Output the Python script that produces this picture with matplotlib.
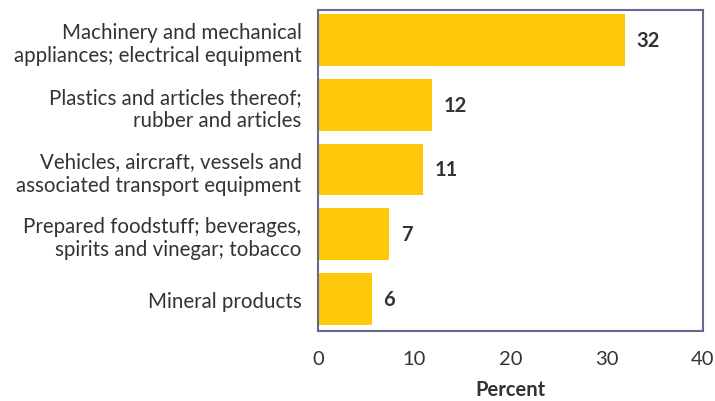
import matplotlib.pyplot as plt

plt.rcParams['font.family'] = ['Lato', 'DejaVu Sans']

categories = [
    "Machinery and mechanical\nappliances; electrical equipment",
    "Plastics and articles thereof;\nrubber and articles",
    "Vehicles, aircraft, vessels and\nassociated transport equipment",
    "Prepared foodstuff; beverages,\nspirits and vinegar; tobacco",
    "Mineral products",
]
shares = [31.9, 11.8, 10.9, 7.4, 5.6]

text_color = "#333333"
frame_color = "#6b6690"

fig = plt.figure(figsize=(7.15, 4.02), dpi=100)
ax = fig.add_axes([0.445, 0.174, 0.538, 0.799])

pos = range(len(categories))
ax.barh(pos, shares, height=0.8, color="#ffc90a")

for y, v in zip(pos, shares):
    ax.text(v + 1.2, y, f"{v:.0f}", va="center", ha="left",
            fontsize=14.5, fontweight="bold", color=text_color)

ax.set_xlim(0, 40)
ax.set_ylim(4.5, -0.47)
ax.set_xticks([0, 10, 20, 30, 40])
ax.set_yticks(list(pos))
ax.set_yticklabels(categories, fontsize=14.8, color=text_color, linespacing=1.2)
ax.tick_params(axis="x", length=0, pad=14, labelsize=14.5, labelcolor=text_color)
ax.tick_params(axis="y", length=0, pad=12)
ax.set_xlabel("Percent", fontsize=14.5, fontweight="bold", color=text_color, labelpad=8)

for s in ax.spines.values():
    s.set_color(frame_color)
    s.set_linewidth(1.5)

fig.savefig("out.png", dpi=100)
